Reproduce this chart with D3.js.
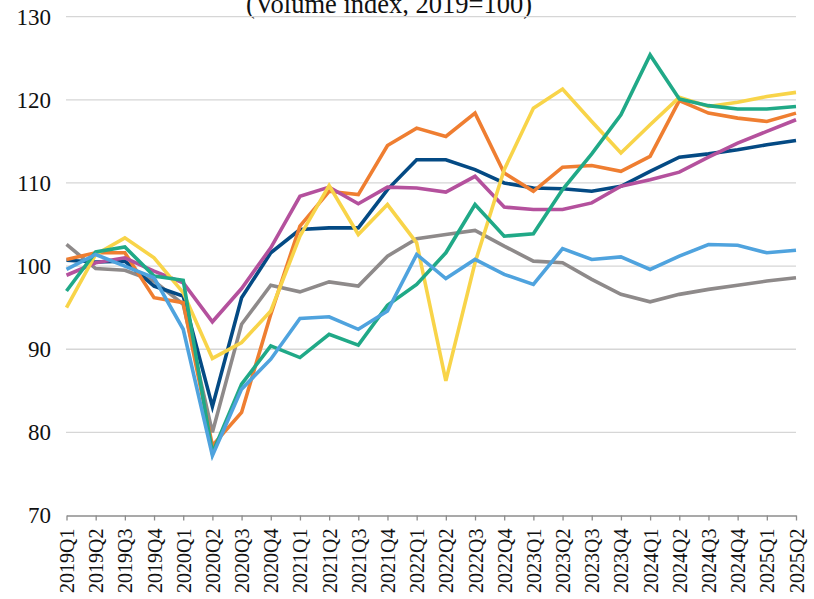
<!DOCTYPE html>
<html>
<head>
<meta charset="utf-8">
<script src="https://cdn.jsdelivr.net/npm/d3@7"></script>
<style>
	html,body{margin:0;padding:0;background:#fff;}
	svg{display:block;}
	svg text{font-family:"Liberation Serif","Times New Roman",serif;}
</style>
</head>
<body>
<svg id="chart" width="814" height="599"></svg>
<script>
// quarters on the x axis
var quarters = ["2019Q1","2019Q2","2019Q3","2019Q4","2020Q1","2020Q2","2020Q3","2020Q4",
	"2021Q1","2021Q2","2021Q3","2021Q4","2022Q1","2022Q2","2022Q3","2022Q4",
	"2023Q1","2023Q2","2023Q3","2023Q4","2024Q1","2024Q2","2024Q3","2024Q4","2025Q1","2025Q2"];

var yTicks = [70,80,90,100,110,120,130];

// volume index values
var navyValues    = [100.7,100.5,100.6,97.6,96.4,83.1,96.2,101.6,104.4,104.6,104.6,109.2,112.8,112.8,111.6,110.0,109.4,109.3,109.0,109.6,111.4,113.1,113.5,114.0,114.6,115.1];
var orangeValues  = [100.8,101.6,101.6,96.2,95.6,78.4,82.4,94.2,104.8,109.0,108.6,114.5,116.6,115.6,118.4,111.2,109.0,111.9,112.1,111.4,113.2,119.9,118.4,117.8,117.4,118.4];
var yellowValues  = [95.0,101.4,103.4,101.0,96.8,88.9,90.8,94.6,103.6,109.7,103.8,107.4,102.8,86.2,100.4,111.6,119.0,121.3,117.4,113.6,117.0,120.3,119.2,119.7,120.4,120.9];
var greenValues   = [97.0,101.7,102.3,98.8,98.3,77.5,85.8,90.4,89.0,91.8,90.5,95.3,97.8,101.6,107.4,103.6,103.9,109.2,113.5,118.2,125.4,120.1,119.3,118.9,118.9,119.2];
var blueValues    = [99.6,101.4,100.0,98.6,92.4,77.2,85.2,88.8,93.7,93.9,92.4,94.6,101.4,98.5,100.8,99.0,97.8,102.1,100.8,101.1,99.6,101.2,102.6,102.5,101.6,101.9];
var grayValues    = [102.6,99.7,99.5,98.2,95.4,80.0,93.0,97.7,96.9,98.1,97.6,101.2,103.3,103.8,104.3,102.4,100.6,100.4,98.4,96.6,95.7,96.6,97.2,97.7,98.2,98.6];
var magentaValues = [98.9,100.4,101.0,99.4,98.0,93.3,97.3,102.2,108.4,109.5,107.5,109.5,109.4,108.9,110.8,107.1,106.8,106.8,107.6,109.6,110.4,111.3,113.1,114.8,116.2,117.6];

// drawing order, bottom first
var seriesList = [
	{values:grayValues,    color:"#8e8a8a"},
	{values:navyValues,    color:"#044a84"},
	{values:orangeValues,  color:"#ef7e31"},
	{values:magentaValues, color:"#b4519d"},
	{values:yellowValues,  color:"#f8d449"},
	{values:greenValues,   color:"#20a987"},
	{values:blueValues,    color:"#4fa3de"}
];

var serif = "'Liberation Serif','Times New Roman',serif";
var svg = d3.select("#chart");

var x = d3.scalePoint()
	.domain(quarters)
	.range([66.5,796]);

var y = d3.scaleLinear()
	.domain([70,130])
	.range([515.5,16.7]);

// title, cut off at the top like the original
svg.append("text")
	.attr("x",389)
	.attr("y",13)
	.attr("text-anchor","middle")
	.style("font-family",serif)
	.style("font-size","26.5px")
	.style("fill","#111")
	.text("(Volume index, 2019=100)");

// horizontal gridlines
svg.append("g")
	.selectAll("line")
	.data(yTicks.filter(function(d){ return d > 70; }))
	.enter().append("line")
	.attr("x1",66)
	.attr("x2",796)
	.attr("y1",function(d){ return y(d); })
	.attr("y2",function(d){ return y(d); })
	.style("stroke","#d6d6d6")
	.style("stroke-width",1.3);

// y axis labels, no axis line
var yAxis = svg.append("g")
	.attr("transform","translate(66,0)")
	.call(d3.axisLeft(y).tickValues(yTicks).tickSize(0).tickPadding(15));
yAxis.attr("font-family",serif);
yAxis.select(".domain").remove();
yAxis.selectAll("text")
	.style("font-family",serif)
	.style("font-size","23px")
	.style("fill","#111");

// x axis with tick marks and rotated labels
var xAxis = svg.append("g")
	.attr("transform","translate(0,"+y(70)+")")
	.call(d3.axisBottom(x).tickSize(5).tickSizeOuter(0));
xAxis.attr("font-family",serif);
xAxis.select(".domain").style("stroke","#8c8c8c").style("stroke-width",1.3);
xAxis.selectAll(".tick line").style("stroke","#8c8c8c").style("stroke-width",1.3);
xAxis.selectAll("text")
	.attr("transform","rotate(-90)")
	.attr("x",-13)
	.attr("y",0)
	.attr("dy","0.35em")
	.attr("text-anchor","end")
	.style("font-family",serif)
	.style("font-size","20px")
	.style("fill","#111");

// series lines
var line = d3.line()
	.x(function(d,i){ return x(quarters[i]); })
	.y(function(d){ return y(d); });

svg.append("g")
	.selectAll("path")
	.data(seriesList)
	.enter().append("path")
	.attr("d",function(s){ return line(s.values); })
	.style("fill","none")
	.style("stroke",function(s){ return s.color; })
	.style("stroke-width",3.6)
	.style("stroke-linejoin","miter")
	.style("stroke-linecap","butt");
</script>
</body>
</html>
